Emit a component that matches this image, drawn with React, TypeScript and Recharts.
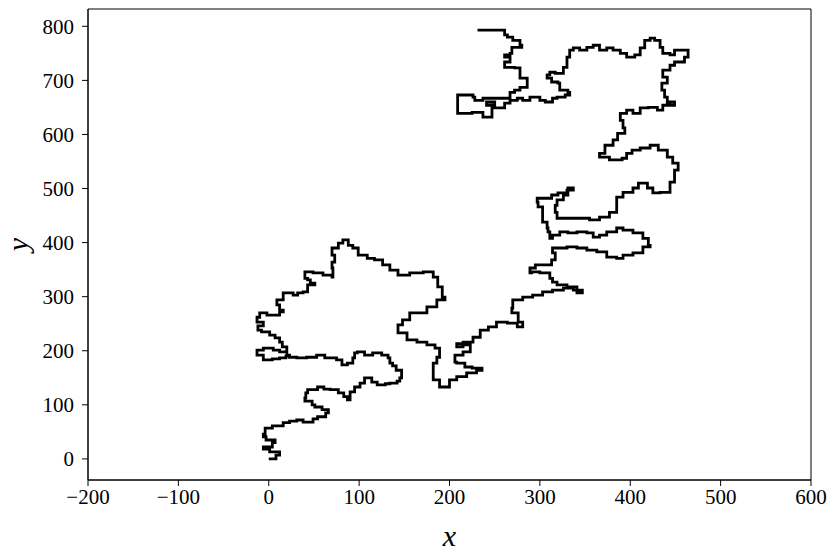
import { Label, Line, LineChart, ReferenceArea, XAxis, YAxis } from "recharts";

// walk, in pieces, as [x, y]
const walkStart: [number, number][] = [
  [0, 0], [8, 7], [12, 13], [1, 18], [-6, 22], [4, 30], [7, 35], [-3, 41], [-6, 46], [-4, 57],
  [4, 61], [16, 67], [23, 70], [31, 72], [38, 68], [43, 68], [49, 74], [54, 78], [63, 85], [66, 91],
  [59, 96], [51, 100], [48, 107], [40, 113], [41, 122], [43, 128], [54, 133], [61, 129], [68, 128],
  [77, 122], [83, 115], [87, 109], [90, 124], [95, 133], [101, 140], [106, 150], [114, 142], [120, 137],
  [129, 139], [134, 140], [142, 144], [145, 150], [147, 164], [141, 172], [137, 177], [134, 187],
  [132, 192], [125, 196], [115, 192], [106, 198], [98, 196], [95, 187], [93, 177], [87, 174], [81, 183],
  [75, 187], [71, 187], [62, 192], [53, 188], [42, 187], [31, 188], [23, 192], [20, 198], [12, 201],
  [5, 205], [-6, 201], [-13, 192], [-6, 183], [4, 185], [12, 187], [19, 190], [20, 207], [15, 216], [12, 224],
];

const walkLeftBlob: [number, number][] = [
  [7, 229], [1, 235], [-8, 238], [-12, 246], [-6, 253], [-13, 262], [-10, 270], [-2, 266], [5, 266],
  [12, 272], [16, 275], [12, 285], [9, 294], [16, 307], [27, 303], [32, 307], [38, 309], [43, 322],
  [51, 325], [46, 331], [43, 334], [40, 346], [49, 344], [60, 340], [70, 336], [71, 353], [70, 364],
  [73, 377], [70, 390], [77, 399], [82, 405], [88, 395], [93, 390], [99, 377], [109, 371], [117, 368],
  [126, 359], [134, 349], [143, 340], [156, 344], [171, 346], [182, 336], [187, 318], [192, 299],
  [195, 294], [186, 281], [175, 270], [167, 270], [156, 257], [148, 248], [143, 233],
];

const walkMiddle: [number, number][] = [
  [153, 220], [164, 216], [175, 211], [184, 205], [189, 188], [186, 177], [182, 164], [182, 146],
  [189, 133], [200, 146], [208, 152], [219, 159], [230, 164], [236, 168], [225, 170], [217, 177],
  [208, 179], [206, 192], [215, 198], [223, 211], [214, 213], [208, 207], [215, 216], [226, 225],
  [234, 238], [243, 244], [252, 253], [264, 251], [275, 244], [281, 253], [276, 270], [269, 279],
  [270, 294], [281, 299], [292, 303], [303, 309], [314, 312], [326, 316], [337, 312], [347, 307],
  [341, 318], [330, 322], [319, 327], [314, 334], [311, 344], [300, 346], [291, 344], [289, 353],
  [295, 359], [306, 359], [313, 368], [317, 381], [314, 390],
];

const walkStrands: [number, number][] = [
  [330, 392], [341, 390], [352, 386], [363, 383], [374, 373], [385, 371], [392, 377], [403, 381],
  [414, 392], [422, 395], [420, 408], [414, 418], [403, 423], [392, 427], [385, 420], [374, 414],
  [366, 410], [359, 418], [352, 420], [341, 418], [331, 420], [322, 414], [314, 408], [311, 420],
  [309, 427], [308, 438], [303, 451], [303, 466], [298, 475], [297, 482], [303, 482], [313, 488],
  [320, 492], [330, 497], [337, 501], [331, 488], [326, 479], [319, 469], [317, 456], [319, 445],
  [333, 445], [344, 445], [355, 442], [366, 447], [377, 456], [385, 469], [385, 484], [392, 493],
  [403, 501], [409, 510], [419, 501], [425, 492], [433, 493], [444, 501], [444, 512],
];

const walkUpperRight: [number, number][] = [
  [449, 534], [453, 547], [447, 558], [441, 571], [431, 580], [422, 575], [411, 571], [402, 565],
  [396, 556], [391, 553], [377, 558], [366, 565], [372, 580], [381, 590], [386, 602], [394, 612],
  [392, 626], [389, 639], [396, 645], [403, 639], [411, 649], [420, 650], [430, 645], [436, 654],
  [444, 660], [449, 654], [441, 669], [438, 682], [435, 695], [441, 706], [436, 719], [444, 728],
  [449, 734], [460, 743], [464, 756], [455, 756], [449, 747], [444, 750], [436, 761], [433, 774],
  [427, 778], [422, 774], [416, 760], [411, 747], [405, 743], [396, 750], [389, 756], [381, 760],
  [374, 756], [366, 765], [359, 761], [352, 756], [344, 760], [337, 756], [333, 743], [330, 724], [326, 713],
];

const walkUpperLeft: [number, number][] = [
  [317, 715], [311, 710], [308, 704], [313, 697], [320, 695], [322, 682], [331, 678], [333, 673],
  [328, 669], [319, 667], [314, 660], [306, 663], [300, 669], [289, 663], [281, 667], [275, 663],
  [267, 658], [261, 649], [252, 649], [250, 660], [243, 660], [241, 654], [247, 649], [247, 632],
  [241, 632], [237, 641], [225, 639], [214, 639], [209, 673], [219, 673], [226, 669], [228, 663],
  [237, 667], [250, 667], [267, 669], [267, 678], [272, 682], [278, 687], [286, 691], [286, 704],
  [280, 704], [278, 723], [272, 724], [261, 728], [261, 734], [267, 743], [261, 747], [267, 750],
  [269, 761], [280, 765], [278, 774], [270, 780], [264, 784], [261, 793], [231, 793],
];

const xTicks = [-200, -100, 0, 100, 200, 300, 400, 500, 600];
const yTicks = [0, 100, 200, 300, 400, 500, 600, 700, 800];
const xDomain: [number, number] = [-200, 600];
const yDomain: [number, number] = [-39, 832];

const walk = [
  ...walkStart,
  ...walkLeftBlob,
  ...walkMiddle,
  ...walkStrands,
  ...walkUpperRight,
  ...walkUpperLeft,
].map(([x, y]) => ({ x, y }));

const fmt = (v: number) => String(v).replace("-", "\u2212");
const serif = "'Liberation Serif', serif";
const tickStyle = { fill: "#000", fontSize: 21, fontFamily: serif };
const labelStyle = { fontSize: 30, fontStyle: "italic", fontFamily: serif, fill: "#000" };

// rotated "y" centred on the axis, the way matplotlib puts its ylabel
const YLabel = (props: any) => {
  const vb = props.viewBox || { x: 0, y: 9, width: 88, height: 471 };
  const cx = vb.x + 17;
  const cy = vb.y + vb.height / 2;
  return (
    <text
      x={cx}
      y={cy}
      transform={`rotate(-90, ${cx}, ${cy})`}
      textAnchor="middle"
      dominantBaseline="central"
      style={labelStyle}
    >
      y
    </text>
  );
};

export default function App() {
  return (
    <div style={{ position: "absolute", left: 0, top: 0 }}>
      <LineChart
        width={830}
        height={554}
        data={walk}
        margin={{ top: 9, right: 19, bottom: 4, left: 0 }}
      >
        <XAxis
          dataKey="x"
          type="number"
          domain={xDomain}
          ticks={xTicks}
          allowDataOverflow
          tickFormatter={fmt}
          tick={tickStyle}
          stroke="#000"
          tickSize={6}
          tickMargin={3}
          height={70}
        >
          <Label value="x" position="insideBottom" offset={4} style={labelStyle} />
        </XAxis>
        <YAxis
          dataKey="y"
          type="number"
          domain={yDomain}
          ticks={yTicks}
          allowDataOverflow
          tickFormatter={fmt}
          tick={tickStyle}
          stroke="#000"
          tickSize={6}
          tickMargin={8}
          width={88}
        >
          <Label content={YLabel} />
        </YAxis>
        {/* box around the plot, like matplotlib's spines */}
        <ReferenceArea
          x1={xDomain[0]}
          x2={xDomain[1]}
          y1={yDomain[0]}
          y2={yDomain[1]}
          fill="none"
          stroke="#000"
          strokeWidth={1}
          fillOpacity={0}
        />
        <Line
          dataKey="y"
          type="stepAfter"
          stroke="#000"
          strokeWidth={2.8}
          dot={false}
          isAnimationActive={false}
        />
      </LineChart>
    </div>
  );
}
